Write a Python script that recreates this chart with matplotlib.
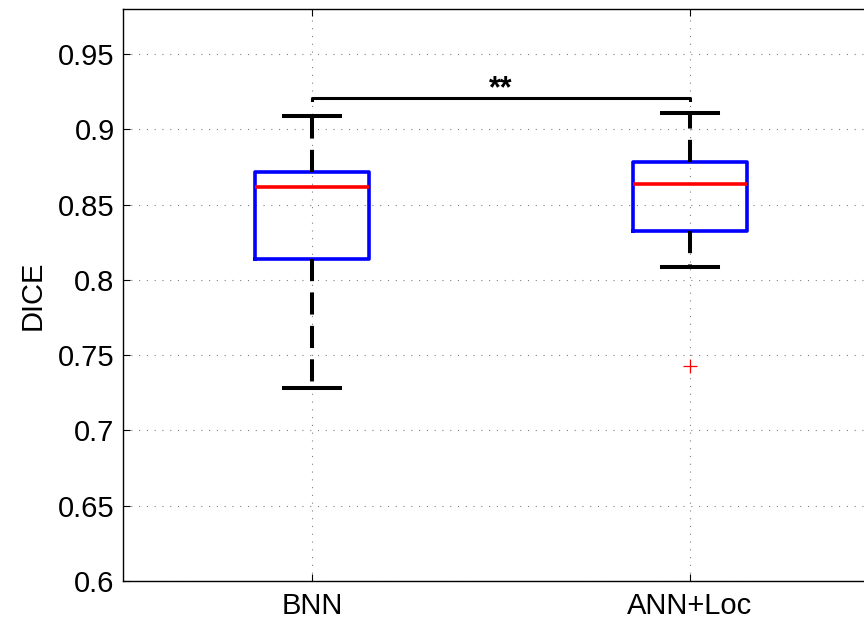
import matplotlib.pyplot as plt

plt.rcParams['font.family'] = ['Liberation Sans', 'DejaVu Sans']

# box statistics
groups = ['BNN', 'ANN+Loc']
q1 = [0.8138, 0.8324]
med = [0.8616, 0.8640]
q3 = [0.8720, 0.8785]
whislo = [0.7285, 0.8085]
whishi = [0.9088, 0.9112]
fliers = [[], [0.7425]]
sig_level = 0.9212
sig_text = '**'

stats = []
for i, g in enumerate(groups):
    stats.append(dict(label=g, q1=q1[i], med=med[i], q3=q3[i],
                      whislo=whislo[i], whishi=whishi[i], fliers=fliers[i]))

fig = plt.figure(figsize=(8.64, 6.19), dpi=100)
ax = fig.add_axes([123 / 864, 38 / 619, 756 / 864, 572 / 619])

ax.bxp(stats, positions=[1, 2], widths=0.3, showfliers=True,
       boxprops=dict(color='#0000ff', linewidth=2.6),
       medianprops=dict(color='#ff0000', linewidth=2.6),
       whiskerprops=dict(color='black', linewidth=2.9, linestyle=(0, (5.5, 2.8))),
       capprops=dict(color='black', linewidth=2.9),
       flierprops=dict(marker='+', markeredgecolor='#ff0000', markersize=10,
                       markeredgewidth=0.9, linestyle='none'))

# significance bar
ax.plot([1, 1, 2, 2], [sig_level - 0.0015, sig_level, sig_level, sig_level - 0.0015],
        color='black', linewidth=2.2)
ax.text(1.5, sig_level + 0.0005, sig_text, ha='center', va='baseline',
        fontsize=22, fontweight='bold')

ax.set_xlim(0.5, 2.5)
ax.set_ylim(0.6, 0.98)
ax.set_yticks([0.6, 0.65, 0.7, 0.75, 0.8, 0.85, 0.9, 0.95])
ax.set_yticklabels(['0.6', '0.65', '0.7', '0.75', '0.8', '0.85', '0.9', '0.95'])
ax.set_xticks([1, 2])
ax.set_xticklabels(groups)
ax.set_ylabel('DICE', fontsize=21, labelpad=8)
ax.tick_params(labelsize=21, direction='in', length=5, top=True, right=True, width=0.8)
ax.tick_params(axis='y', pad=6)
ax.tick_params(axis='x', pad=8)
ax.grid(True, linestyle=(0, (1, 6)), color='#808080', linewidth=0.8)
for s in ax.spines.values():
    s.set_linewidth(1.0)

fig.savefig('out.png', dpi=100)
